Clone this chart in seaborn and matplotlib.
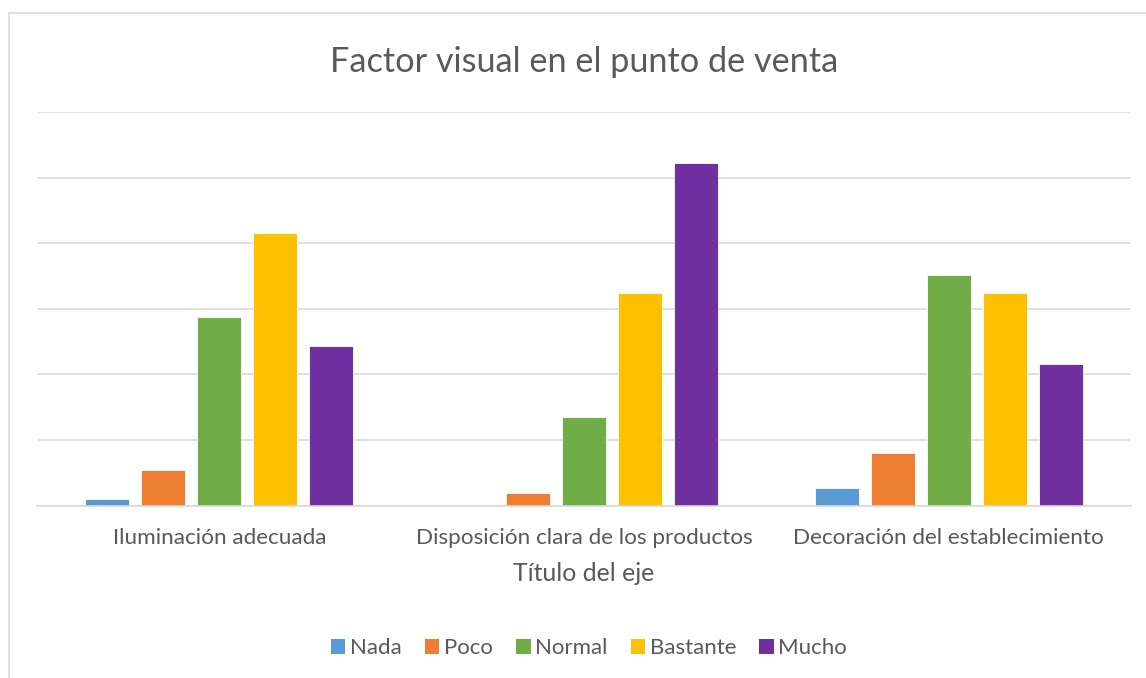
import matplotlib
matplotlib.use("Agg")
import matplotlib.pyplot as plt
import seaborn as sns
import pandas as pd
from matplotlib.patches import Rectangle, Patch

categories = ["Iluminación adecuada", "Disposición clara de los productos", "Decoración del establecimiento"]
levels = ["Nada", "Poco", "Normal", "Bastante", "Mucho"]
nada = [1.0, 0.0, 2.7]
poco = [5.5, 1.9, 8.1]
normal = [28.8, 13.5, 35.1]
bastante = [41.5, 32.4, 32.4]
mucho = [24.3, 52.2, 21.6]
colors = ["#5B9BD5", "#ED7D31", "#70AD47", "#FFC000", "#7030A0"]

series = {"Nada": nada, "Poco": poco, "Normal": normal, "Bastante": bastante, "Mucho": mucho}
rows = []
for lvl in levels:
    for c, v in zip(categories, series[lvl]):
        rows.append({"cat": c, "nivel": lvl, "valor": v})
df = pd.DataFrame(rows)

sns.set_theme(style="white")
plt.rcParams["font.family"] = ["Lato", "DejaVu Sans"]
txt = "#595959"

W, H = 1146, 678
fig = plt.figure(figsize=(W / 100, H / 100), dpi=100)
ax = fig.add_axes([37 / W, 1 - 505.7 / H, (1131 - 37) / W, (505.7 - 112) / H])

sns.barplot(data=df, x="cat", y="valor", hue="nivel", order=categories, hue_order=levels,
            palette=colors, width=0.768, gap=0.214, ax=ax, legend=False,
            edgecolor="white", linewidth=0.6, saturation=1)

ax.set_ylim(0, 60)
ax.set_yticks(range(0, 61, 10))
ax.yaxis.grid(True, color="#D9D9D9", linewidth=1.2)
ax.set_axisbelow(True)
ax.tick_params(axis="y", left=False, labelleft=False)
ax.tick_params(axis="x", bottom=False, labelsize=16.2, colors=txt, pad=10)
for s in ["top", "right", "left"]:
    ax.spines[s].set_visible(False)
ax.spines["bottom"].set_color("#D9D9D9")
ax.spines["bottom"].set_linewidth(1.2)
ax.set_xlabel("Título del eje", fontsize=17.8, color=txt, labelpad=10)
ax.set_ylabel("")

fig.text(584 / W, 1 - 62 / H, "Factor visual en el punto de venta", ha="center", va="center",
         fontsize=24.7, color=txt, fontweight="normal")

handles = [Patch(facecolor=c, edgecolor="none", label=l) for c, l in zip(colors, levels)]
fig.legend(handles=handles, loc="center", bbox_to_anchor=(589 / W, 1 - 648 / H), ncol=5,
           frameon=False, fontsize=16, labelcolor=txt, handlelength=0.65, handleheight=0.65,
           handletextpad=0.2, columnspacing=1.05)

fig.patches.append(Rectangle((8.5 / W, -0.1), 1.2, 1 - 13 / H + 0.1, transform=fig.transFigure,
                             fill=False, edgecolor="#D9D9D9", linewidth=1.2))

fig.savefig("out.png", dpi=100)
